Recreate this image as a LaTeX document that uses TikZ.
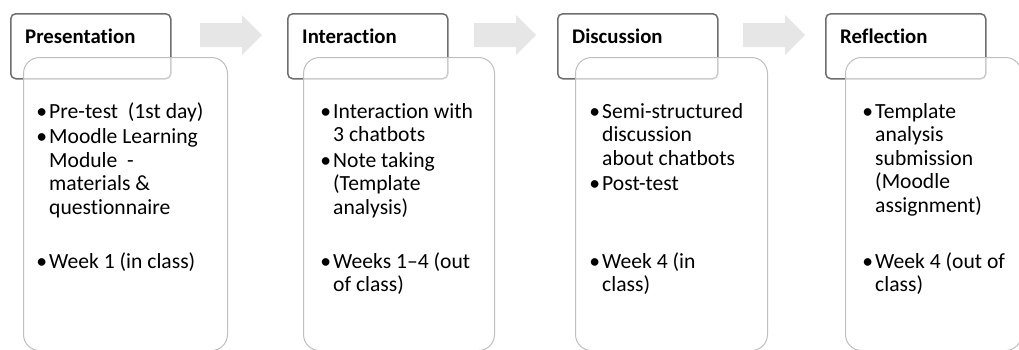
\documentclass[tikz,border=0pt]{standalone}
\usepackage{fontspec}
\setmainfont{Carlito}[Ligatures=NoCommon]
\usepackage{xcolor}
\definecolor{hdrgray}{HTML}{6E6E6E}
\definecolor{boxgray}{HTML}{BFBFBF}
\definecolor{arrowgray}{HTML}{E6E6E6}
\usetikzlibrary{positioning}
\newcommand{\bul}{\strut\llap{\textbullet\hspace{2pt}}}

\begin{document}
\begin{tikzpicture}[x=1pt, y=-1pt,
    header/.style={draw=hdrgray, line width=1.5pt, rounded corners=5pt, fill=white,
      anchor=north west, minimum width=160pt, minimum height=65pt, inner sep=0pt},
    title/.style={anchor=base west, inner sep=0pt, font=\fontsize{20.8}{24}\selectfont\bfseries},
    stagebox/.style={draw=boxgray, line width=1pt, rounded corners=16pt, fill=white,
      fill opacity=0.65, anchor=north west, minimum height=293pt, inner sep=0pt},
    item/.style={anchor=north west, inner sep=0pt, align=left,
      font=\fontsize{21.6}{23.5}\selectfont}]
    \useasboundingbox (0,0) rectangle (1019,349);
    % Block arrows between the stages
    \foreach \x in {200,474,743}
      \fill[arrowgray] (\x,23) -- ++(42,0) -- ++(0,-8) -- ++(20,20) -- ++(-20,20)
        -- ++(0,-8) -- ++(-42,0) -- cycle;
    % Presentation
    \node[header] (pres) at (10,13) {};
    \node[title] (pres-title) at (25,43.5) {Presentation};
    \node[stagebox, minimum width=204pt] (pres-body) at (23,57) {};
    \node[item] (pres-a) at (49,101.5) {\bul Pre-test\ \ (1st day)};
    \node[item] (pres-b) at (49,127) {\bul Moodle Learning\\Module\ \ -\\materials \&\\questionnaire};
    \node[item] (pres-c) at (49,251.5) {\bul Week 1 (in class)};
    % Interaction
    \node[header] (inter) at (287,13) {};
    \node[title] (inter-title) at (302,43.5) {Interaction};
    \node[stagebox, minimum width=191pt] (inter-body) at (303,57) {};
    \node[item] (inter-a) at (333,101.5) {\bul Interaction with\\3 chatbots};
    \node[item] (inter-b) at (333,150.5) {\bul Note taking\\(Template\\analysis)};
    \node[item] (inter-c) at (333,251.5) {\bul Weeks 1--4 (out\\of class)};
    % Discussion
    \node[header] (disc) at (557,13) {};
    \node[title] (disc-title) at (572,43.5) {Discussion};
    \node[stagebox, minimum width=192pt] (disc-body) at (575,57) {};
    \node[item] (disc-a) at (602,101.5) {\bul Semi-structured\\discussion\\about chatbots};
    \node[item] (disc-b) at (602,173.5) {\bul Post-test};
    \node[item] (disc-c) at (602,251.5) {\bul Week 4 (in\\class)};
    % Reflection
    \node[header] (refl) at (825,13) {};
    \node[title] (refl-title) at (840,43.5) {Reflection};
    \node[stagebox, minimum width=176pt] (refl-body) at (845,57) {};
    \node[item] (refl-a) at (875,101.5) {\bul Template\\analysis\\submission\\(Moodle\\assignment)};
    \node[item] (refl-b) at (875,251.5) {\bul Week 4 (out of\\class)};
  \end{tikzpicture}
\end{document}
